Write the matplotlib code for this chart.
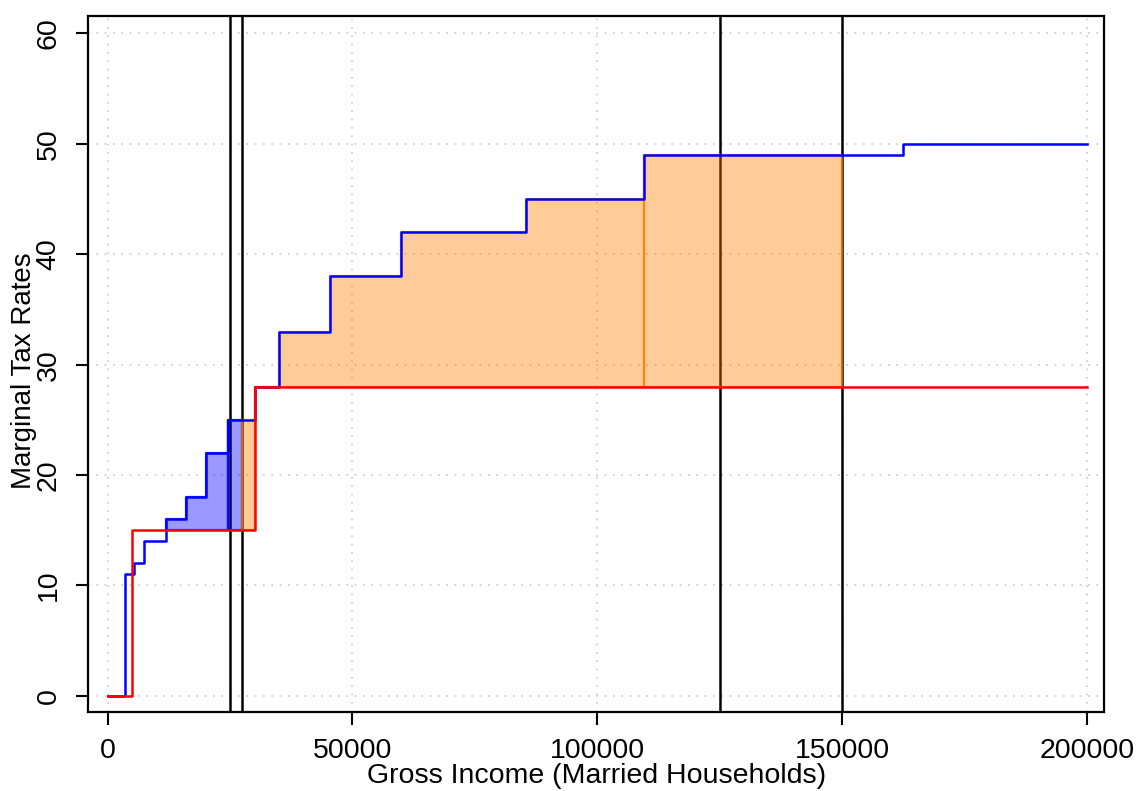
import numpy as np
import matplotlib.pyplot as plt

plt.rcParams['font.family'] = ['Liberation Sans', 'DejaVu Sans']

# step functions: rate applies from this income up to the next breakpoint
old_x = [0, 3500, 5400, 7500, 12000, 16000, 20000, 24500, 30000, 35000,
         45500, 60000, 85500, 109500, 162500, 200000]
old_rate = [0, 11, 12, 14, 16, 18, 22, 25, 28, 33, 38, 42, 45, 49, 50, 50]
new_x = [0, 5000, 30000, 200000]
new_rate = [0, 15, 28, 28]

vlines = [25000, 27500, 125000, 150000]
blue_segments = [(12000, 24500), (24500, 27500)]
orange_segments = [(27500, 30000), (30000, 109500), (109500, 150000)]

xticks = [0, 50000, 100000, 150000, 200000]
yticks = [0, 10, 20, 30, 40, 50, 60]


def step_val(xs, ys, q):
    i = np.searchsorted(xs, q, side='right') - 1
    return np.array(ys)[np.clip(i, 0, len(ys) - 1)]


fig = plt.figure(figsize=(11.36, 7.91), dpi=100)
ax = fig.add_axes([0.0775, 0.1, 0.8945, 0.88])

for v in xticks:
    ax.axvline(v, color='#c8c8c8', lw=1.2, ls=(0, (1, 4)), zorder=0)
for v in yticks:
    ax.axhline(v, color='#c8c8c8', lw=1.2, ls=(0, (1, 4)), zorder=0)

for v in vlines:
    ax.axvline(v, color='black', lw=1.8, zorder=1)


def shade(a, b, face, edge):
    pts = sorted(set([a, b] + [p for p in old_x + new_x if a < p < b]))
    xs = np.array(pts)
    lo = step_val(new_x, new_rate, xs)
    hi = step_val(old_x, old_rate, xs)
    ax.fill_between(xs, lo, hi, step='post', facecolor=face,
                    edgecolor=edge, lw=1.6, zorder=2)


for a, b in blue_segments:
    shade(a, b, (0, 0, 1, 0.4), (0, 0, 1, 0.75))
for a, b in orange_segments:
    shade(a, b, (1, 0.5, 0, 0.4), (1, 0.5, 0, 0.7))

ax.step(old_x, old_rate, where='post', color='blue', lw=1.8, zorder=3)
ax.step(new_x, new_rate, where='post', color='red', lw=1.8, zorder=4)

ax.set_xlim(-4000, 203500)
ax.set_ylim(-1.45, 61.6)
ax.set_xticks(xticks)
ax.set_xticklabels([str(t) for t in xticks])
ax.set_yticks(yticks)
ax.set_yticklabels([str(t) for t in yticks], rotation=90, va='center')
ax.tick_params(labelsize=20.5, length=9, width=1.5, pad=10)
for s in ax.spines.values():
    s.set_linewidth(1.6)

ax.set_xlabel('Gross Income (Married Households)', fontsize=20.5, labelpad=-1)
ax.set_ylabel('Marginal Tax Rates', fontsize=20)
ax.yaxis.set_label_coords(-0.05, 0.49)

fig.savefig('out.png', dpi=100)
